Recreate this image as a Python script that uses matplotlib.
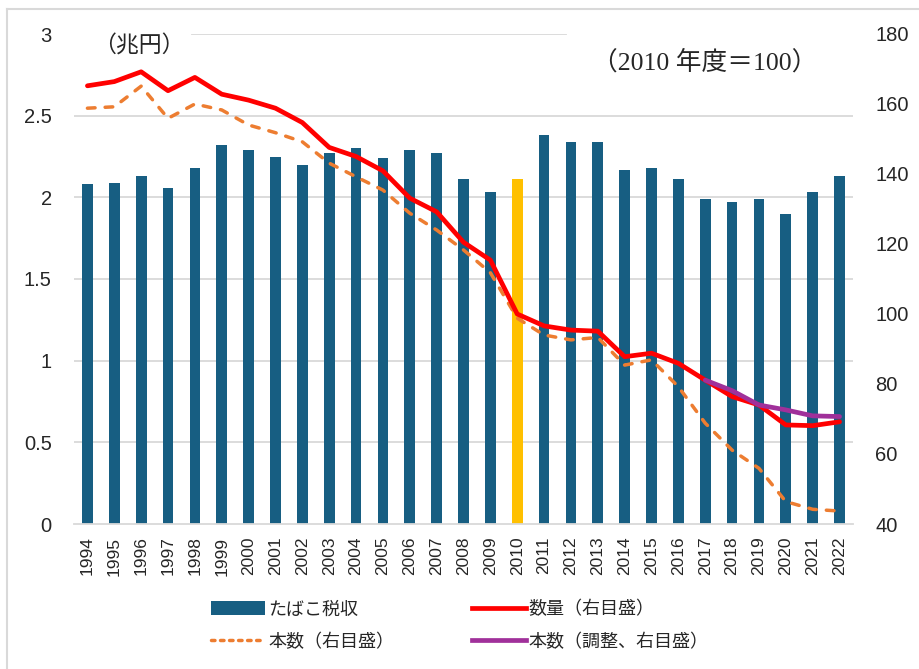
import matplotlib
matplotlib.use('Agg')
import matplotlib.pyplot as plt
from matplotlib.lines import Line2D
from matplotlib.patches import Patch
from matplotlib.ticker import FuncFormatter

plt.rcParams['font.family'] = ['Liberation Sans', 'Noto Sans CJK JP']

# data
years = list(range(1994, 2023))
tax_revenue = [2.08, 2.09, 2.13, 2.06, 2.18, 2.32, 2.29, 2.25, 2.20, 2.27,
               2.30, 2.24, 2.29, 2.27, 2.11, 2.03, 2.11, 2.38, 2.34, 2.34,
               2.17, 2.18, 2.11, 1.99, 1.97, 1.99, 1.90, 2.03, 2.13]
volume = [165.2, 166.4, 169.2, 163.8, 167.6, 162.8, 161.1, 158.8, 154.7, 147.6,
          145.0, 140.9, 133.1, 129.2, 120.5, 115.4, 100.0, 96.6, 95.4, 95.1,
          87.8, 88.8, 85.9, 81.1, 76.4, 74.0, 68.3, 68.1, 69.2]
sticks = [158.8, 159.2, 165.1, 155.9, 160.0, 158.3, 154.0, 151.8, 149.2, 143.1,
          139.2, 135.4, 128.8, 124.0, 118.3, 111.8, 98.8, 94.0, 92.6, 93.3,
          85.4, 86.9, 79.2, 68.8, 61.1, 55.9, 46.4, 44.2, 43.7]
adj_years = list(range(2017, 2023))
sticks_adj = [81.1, 78.1, 74.0, 72.6, 70.9, 70.7]

labels = ['たばこ税収', '数量（右目盛）', '本数（右目盛）', '本数（調整、右目盛）']

blue = '#175e82'
gold = '#ffc000'
grid_c = '#d9d9d9'
text_c = '#262626'

fig = plt.figure(figsize=(9.2, 6.69), dpi=100)
ax = fig.add_axes([74 / 920, 1 - 524 / 669, 779 / 920, 490 / 669])

pos = list(range(len(years)))
bar_colors = [gold if y == 2010 else blue for y in years]
ax.bar(pos, tax_revenue, width=0.4, color=bar_colors, zorder=2)

ax.set_xlim(-0.5, len(years) - 0.5)
ax.set_ylim(0, 3)
ax.set_yticks([0, 0.5, 1, 1.5, 2, 2.5, 3])
ax.yaxis.set_major_formatter(FuncFormatter(lambda v, p: '%g' % v))
ax.set_xticks(pos)
ax.set_xticklabels([str(y) for y in years], rotation=90, fontsize=12.5, color=text_c)
ax.tick_params(axis='y', length=0, pad=16, labelsize=14.5, labelcolor=text_c)
ax.tick_params(axis='x', length=0, pad=9)
for s in ['top', 'left', 'right']:
    ax.spines[s].set_visible(False)
ax.spines['bottom'].set_color(grid_c)
ax.spines['bottom'].set_linewidth(1.3)
for v in [0.5, 1, 1.5, 2, 2.5]:
    ax.axhline(v, color=grid_c, lw=1.3, zorder=1)
# top gridline partly hidden by the two text boxes
ax.axhline(3, xmin=0.152, xmax=0.632, color=grid_c, lw=1.3, zorder=1)

ax2 = ax.twinx()
ax2.set_ylim(40, 180)
ax2.set_yticks(range(40, 181, 20))
ax2.tick_params(axis='y', length=0, pad=16, labelsize=14.5, labelcolor=text_c)
for s in ax2.spines.values():
    s.set_visible(False)

adj_pos = [years.index(y) for y in adj_years]
ax2.plot(pos, sticks, color='#ed7d31', lw=2.5, dashes=(2.2, 2.9), dash_capstyle='round')
ax2.plot(pos, volume, color='#ff0000', lw=3.4, solid_capstyle='round', solid_joinstyle='round')
ax2.plot(adj_pos, sticks_adj, color='#a0309a', lw=3.4, solid_capstyle='round', solid_joinstyle='round')

ax.text(0.024, 0.975, '（兆円）', transform=ax.transAxes, ha='left', va='center',
        fontsize=16.5, color=text_c, family=['Liberation Serif', 'Noto Sans CJK JP'])
ax.text(0.665, 0.943, '（2010 年度＝100）', transform=ax.transAxes, ha='left', va='center',
        fontsize=18.5, color=text_c, family=['Liberation Serif', 'Noto Sans CJK JP'])

handles = [Patch(facecolor=blue),
           Line2D([], [], color='#ed7d31', lw=2.5, dashes=(1.0, 1.6), dash_capstyle='round'),
           Line2D([], [], color='#ff0000', lw=3.4),
           Line2D([], [], color='#a0309a', lw=3.4)]
leg_labels = [labels[0], labels[2], labels[1], labels[3]]
fig.legend(handles, leg_labels, ncol=2, loc='center', bbox_to_anchor=(0.5, 1 - 626 / 669),
           frameon=False, fontsize=13, handlelength=3.0, handleheight=0.8,
           handletextpad=0.15, columnspacing=4.3, labelspacing=0.85, labelcolor=text_c)

# outer chart-area border (cropped at right and bottom)
fig.add_artist(Line2D([7 / 920, 7 / 920], [0, 1 - 9 / 669], color=grid_c, lw=1.5))
fig.add_artist(Line2D([7 / 920, 1], [1 - 9 / 669, 1 - 9 / 669], color=grid_c, lw=1.5))

fig.savefig('out.png', dpi=100)
